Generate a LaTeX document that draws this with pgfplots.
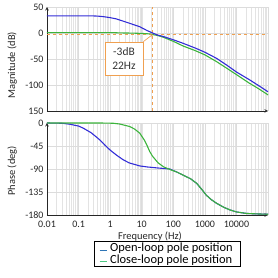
\documentclass[border=0pt]{standalone}
\usepackage{fontspec}
\setmainfont{Carlito}
\usepackage{pgfplots}
\usepackage{pgfplotstable}
\pgfplotsset{compat=1.18}
\definecolor{bl}{RGB}{50,45,215}
\definecolor{gr}{RGB}{60,180,60}
\definecolor{og}{RGB}{240,160,80}
\definecolor{gridc}{RGB}{220,220,220}
\definecolor{legbl}{RGB}{46,117,182}
\definecolor{leggr}{RGB}{76,200,130}

\pgfplotstableread{
f dB
0.01 33
0.1 33
0.25 33
0.4 32.5
0.6 31.5
1 29.5
1.6 27
3 21.5
5 17
8.7 12
15 4.5
18 2.5
22 0
32 -4
50 -7
100 -13
204 -19.8
500 -29
1000 -37
2340 -48.7
5000 -62
10000 -75
26000 -90
50000 -101
100000 -113
}\magblue

\pgfplotstableread{
f dB
0.01 0.8
0.5 0.8
1.2 0.8
2 0.2
5 -0.2
10 -0.8
18 -1.8
22 -3
32 -4.8
50 -8.5
100 -16
204 -25
500 -34
1000 -42
2340 -55
5000 -68
10000 -80
26000 -96.7
50000 -107
100000 -119
}\maggreen

\pgfplotstableread{
f ph
0.01 0
0.03 -0.5
0.054 -2.5
0.1 -6
0.14 -10
0.25 -19
0.47 -33
0.7 -44
1.0 -53
1.6 -63
2.6 -72
4 -78
8.7 -84
15 -86
32 -88
78 -90
130 -96
204 -102
350 -109
550 -118
800 -130
1100 -141
1600 -150
2340 -157
4000 -165
6200 -170
10000 -174
21000 -177
50000 -178
100000 -178.5
}\phblue

\pgfplotstableread{
f ph
0.01 0
0.5 0
1.25 -0.5
2 -2
4.2 -7
6 -12
8.7 -20
12 -33
15 -45
18 -56
22 -65
33 -78
50 -86
78 -91
130 -96
204 -102
350 -109
550 -118
800 -130
1100 -141
1600 -150
2340 -157
4000 -165
6200 -170
10000 -174
21000 -177
50000 -178
100000 -178.5
}\phgreen

\begin{document}
\begin{tikzpicture}
\path[use as bounding box] (0bp,0bp) rectangle (278bp,278bp);

% Magnitude
\begin{axis}[
  scale only axis, width=221bp, height=104bp,
  at={(47bp,167bp)}, anchor=south west,
  xmode=log, xmin=0.01, xmax=1e5,
  axis lines=left,
  axis line style={black!85, line width=0.6pt},
  xmajorgrids=true, xminorgrids=true, ymajorgrids=true,
  major grid style={gridc, line width=0.5pt},
  minor grid style={gridc!80, line width=0.4pt},
  tick style={draw=none}, major tick length=0pt,
  xtick={0.01,0.1,1,10,100,1000,10000,100000},
  tick label style={font=\fontsize{10}{12}\selectfont, text=black!85},
  label style={font=\fontsize{10.5}{12}\selectfont, text=black!85},
  ymin=-150, ymax=50,
  ytick={-150,-100,-50,0,50},
  yticklabels={150,-100,-50,0,50},
  xticklabels={},
  ylabel={Magnitude (dB)},
  ylabel style={at={(axis description cs:-0.158,0.44)}, anchor=center},
]
\addplot[og, dashed, line width=0.8pt, forget plot] coordinates {(0.01,-3) (100000,-3)};
\addplot[og, dashed, line width=0.8pt, forget plot] coordinates {(22,-150) (22,50)};
\addplot[gr, line width=1.1pt] table[x=f,y=dB] {\maggreen};
\addplot[bl, line width=1.1pt] table[x=f,y=dB] {\magblue};
\node[draw=og, fill=white, line width=0.7pt, align=center, text=black!80,
      font=\fontsize{11.5}{14}\selectfont, minimum width=38bp, minimum height=33bp, inner sep=1pt]
      (box) at (axis cs:2.75,-49) {-3dB\\22Hz};
\draw[og, ->, line width=0.7pt] (box.north east) -- (axis cs:22,-3);
\end{axis}

% Phase
\begin{axis}[
  scale only axis, width=221bp, height=92bp,
  at={(47bp,63bp)}, anchor=south west,
  xmode=log, xmin=0.01, xmax=1e5,
  axis lines=left,
  axis line style={black!85, line width=0.6pt},
  xmajorgrids=true, xminorgrids=true, ymajorgrids=true,
  major grid style={gridc, line width=0.5pt},
  minor grid style={gridc!80, line width=0.4pt},
  tick style={draw=none}, major tick length=0pt,
  xtick={0.01,0.1,1,10,100,1000,10000,100000},
  tick label style={font=\fontsize{10}{12}\selectfont, text=black!85},
  xticklabel style={yshift=-3bp},
  label style={font=\fontsize{10.5}{12}\selectfont, text=black!85},
  ymin=-180, ymax=0,
  ytick={-180,-135,-90,-45,0},
  yticklabels={-180,-135,-90,-45,0},
  xticklabels={0.01,0.1,1,10,100,1000,10000,},
  ylabel={Phase (deg)},
  ylabel style={at={(axis description cs:-0.158,0.48)}, anchor=center},
  xlabel={Frequency (Hz)},
  xlabel style={at={(axis description cs:0.466,-0.235)}, anchor=center},
  legend style={at={(axis description cs:0.545,-0.285)}, anchor=north,
    draw=black, line width=0.7pt, font=\fontsize{12.5}{13}\selectfont,
    inner xsep=5pt, inner ysep=0.5pt, row sep=-0.5pt,
    nodes={inner xsep=3pt, inner ysep=1pt}},
  legend cell align=left,
]
\addplot[bl, line width=1.1pt, forget plot] table[x=f,y=ph] {\phblue};
\addplot[gr, line width=1.1pt, forget plot] table[x=f,y=ph] {\phgreen};
\addlegendimage{legbl, line width=1pt, legend image code/.code={\draw[legbl, line width=1pt] (0bp,-2bp) -- (7bp,-2bp);}}
\addlegendentry{Open-loop pole position}
\addlegendimage{leggr, line width=1pt, legend image code/.code={\draw[leggr, line width=1pt] (0bp,-2bp) -- (7bp,-2bp);}}
\addlegendentry{Close-loop pole position}
\end{axis}
\end{tikzpicture}
\end{document}
